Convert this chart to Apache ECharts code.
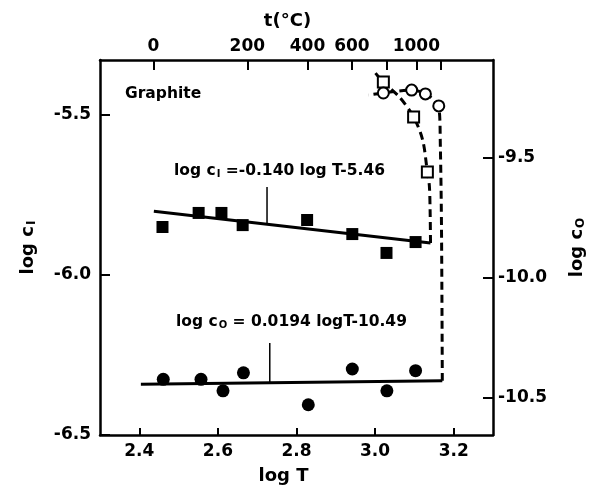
<!DOCTYPE html>
<html><head><meta charset="utf-8">
<script src="https://cdn.jsdelivr.net/npm/echarts@6/dist/echarts.min.js"></script>
<style>html,body{margin:0;padding:0;background:#fff}#c{width:598px;height:491px}</style>
</head><body><div id="c"></div>
<script>
// ---- tick values ----
const logTTicks = [2.4, 2.6, 2.8, 3.0, 3.2];
const logCITicks = [-6.5, -6.0, -5.5];
const logC0Ticks = [-10.5, -10.0, -9.5];
const tTicks = [0, 200, 400, 600, 800, 1000, 1200];
const tLabels = [0, 200, 400, 600, 1000];

// ---- log c_I (left axis) ----
const ciFilled = [[2.459,-5.850],[2.551,-5.806],[2.609,-5.806],[2.663,-5.844],[2.827,-5.828],[2.942,-5.872],[3.029,-5.931],[3.103,-5.897]];
const ciFit = [[2.437,-5.801],[3.141,-5.900]];
const ciPointer = [[2.725,-5.725],[2.725,-5.842]];
const ciOpen = [[3.021,-5.397],[3.098,-5.506],[3.133,-5.678]];
const ciCurve = [[3.141,-5.900],[3.140,-5.80],[3.138,-5.72],[3.133,-5.678],[3.121,-5.578],[3.098,-5.506],[3.062,-5.444],[3.021,-5.397],[3.001,-5.369]];

// ---- log c_0 (right axis) ----
const c0Filled = [[2.461,-10.422],[2.557,-10.422],[2.613,-10.470],[2.665,-10.395],[2.830,-10.528],[2.942,-10.379],[3.030,-10.470],[3.103,-10.386]];
const c0Fit = [[2.404,-10.443],[3.171,-10.428]];
const c0Pointer = [[2.732,-10.271],[2.732,-10.437]];
const c0Open = [[3.021,-9.229],[3.093,-9.217],[3.128,-9.233],[3.162,-9.283]];
const c0Curve = [[3.171,-10.428],[3.169,-9.80],[3.166,-9.45],[3.162,-9.283],[3.128,-9.233],[3.093,-9.217],[3.021,-9.229],[2.983,-9.238]];

const FF = 'DejaVu Sans';
const BLK = '#000';
const chart = echarts.init(document.getElementById('c'), null, {renderer: 'canvas'});

const lblStyle = {color: BLK, fontSize: 17, fontWeight: 'bold', fontFamily: FF};
const lineAx = {show: true, onZero: false, lineStyle: {color: BLK, width: 2.5}};
const tickStyle = {color: BLK, width: 2};
const nameRich = {
  a: {fontSize: 18, fontWeight: 'bold', fontFamily: FF, color: BLK},
  s: {fontSize: 12, fontWeight: 'bold', fontFamily: FF, color: BLK, verticalAlign: 'bottom', padding: [8, 0, 0, 1]}
};
const tTickPos = tTicks.map(t => Math.log10(t + 273));
const tLabelPos = tLabels.map(t => Math.log10(t + 273));
const eqRich = {
  a: {fontSize: 15.5, fontWeight: 'bold', fontFamily: FF, fill: BLK},
  s: {fontSize: 10, fontWeight: 'bold', fontFamily: FF, fill: BLK, padding: [6, 0, 0, 1]}
};

chart.setOption({
  animation: false,
  backgroundColor: '#fff',
  grid: {left: 100, top: 60, right: 105, bottom: 56},
  xAxis: [
    {type: 'value', position: 'bottom', min: 2.3, max: 3.3,
     axisLine: lineAx,
     axisTick: {inside: true, length: 7, customValues: logTTicks, lineStyle: tickStyle},
     axisLabel: Object.assign({customValues: logTTicks, formatter: v => v.toFixed(1), margin: 8}, lblStyle),
     splitLine: {show: false},
     name: 'log T', nameLocation: 'middle', nameGap: 32,
     nameTextStyle: {fontSize: 18, fontWeight: 'bold', fontFamily: FF, color: BLK, padding: [0, 26, 0, 0]}},
    {type: 'value', position: 'top', min: 2.3, max: 3.3,
     axisLine: lineAx,
     axisTick: {inside: true, length: 10, customValues: tTickPos, lineStyle: tickStyle},
     axisLabel: Object.assign({customValues: tLabelPos, formatter: v => String(Math.round(Math.pow(10, v) - 273)), margin: 5}, lblStyle),
     splitLine: {show: false},
     name: 't(°C)', nameLocation: 'middle', nameGap: 30,
     nameTextStyle: {fontSize: 18, fontWeight: 'bold', fontFamily: FF, color: BLK, padding: [0, 18, 0, 0]}}
  ],
  yAxis: [
    {type: 'value', position: 'left', min: -6.5, max: -5.328,
     axisLine: lineAx,
     axisTick: {inside: true, length: 10, customValues: logCITicks, lineStyle: tickStyle},
     axisLabel: Object.assign({customValues: logCITicks, formatter: v => v.toFixed(1), margin: 9}, lblStyle),
     splitLine: {show: false},
     name: '{a|log c}{s|I}', nameLocation: 'middle', nameGap: 62, nameRotate: 90,
     nameTextStyle: {rich: nameRich}},
    {type: 'value', position: 'right', min: -10.654, max: -9.0917,
     axisLine: lineAx,
     axisTick: {inside: true, length: 10, customValues: logC0Ticks, lineStyle: tickStyle},
     axisLabel: Object.assign({customValues: logC0Ticks, formatter: v => v.toFixed(1), margin: 5}, lblStyle),
     splitLine: {show: false},
     name: '{a|log c}{s|O}', nameLocation: 'middle', nameGap: 74, nameRotate: 90,
     nameTextStyle: {rich: nameRich}}
  ],
  series: [
    {type: 'line', xAxisIndex: 0, yAxisIndex: 0, data: ciFit, symbol: 'none', lineStyle: {color: BLK, width: 3}, z: 2},
    {type: 'line', xAxisIndex: 0, yAxisIndex: 0, data: ciPointer, symbol: 'none', lineStyle: {color: BLK, width: 1.5}, z: 2},
    {type: 'line', xAxisIndex: 0, yAxisIndex: 0, data: ciCurve, symbol: 'none', smooth: 0.3, lineStyle: {color: BLK, width: 3, type: [8, 5]}, z: 2},
    {type: 'scatter', xAxisIndex: 0, yAxisIndex: 0, data: ciFilled, symbol: 'rect', symbolSize: 12, itemStyle: {color: BLK, opacity: 1}, z: 3},
    {type: 'scatter', xAxisIndex: 0, yAxisIndex: 0, data: ciOpen, symbol: 'rect', symbolSize: 11, itemStyle: {color: '#fff', borderColor: BLK, borderWidth: 2, opacity: 1}, z: 3},
    {type: 'line', xAxisIndex: 0, yAxisIndex: 1, data: c0Fit, symbol: 'none', lineStyle: {color: BLK, width: 3}, z: 2},
    {type: 'line', xAxisIndex: 0, yAxisIndex: 1, data: c0Pointer, symbol: 'none', lineStyle: {color: BLK, width: 1.5}, z: 2},
    {type: 'line', xAxisIndex: 0, yAxisIndex: 1, data: c0Curve, symbol: 'none', smooth: 0.3, lineStyle: {color: BLK, width: 3, type: [8, 5]}, z: 2},
    {type: 'scatter', xAxisIndex: 0, yAxisIndex: 1, data: c0Filled, symbol: 'circle', symbolSize: 13, itemStyle: {color: BLK, opacity: 1}, z: 3},
    {type: 'scatter', xAxisIndex: 0, yAxisIndex: 1, data: c0Open, symbol: 'circle', symbolSize: 11, itemStyle: {color: '#fff', borderColor: BLK, borderWidth: 2, opacity: 1}, z: 3}
  ],
  graphic: [
    {type: 'text', left: 125, top: 86, style: {text: 'Graphite', font: 'bold 15.5px "DejaVu Sans"', fill: BLK}},
    {type: 'text', left: 174, top: 163, style: {text: '{a|log c}{s|I}{a| =-0.140 log T-5.46}', fill: BLK, rich: eqRich}},
    {type: 'text', left: 176, top: 314, style: {text: '{a|log c}{s|O}{a| = 0.0194 logT-10.49}', fill: BLK, rich: eqRich}}
  ]
});
</script></body></html>
